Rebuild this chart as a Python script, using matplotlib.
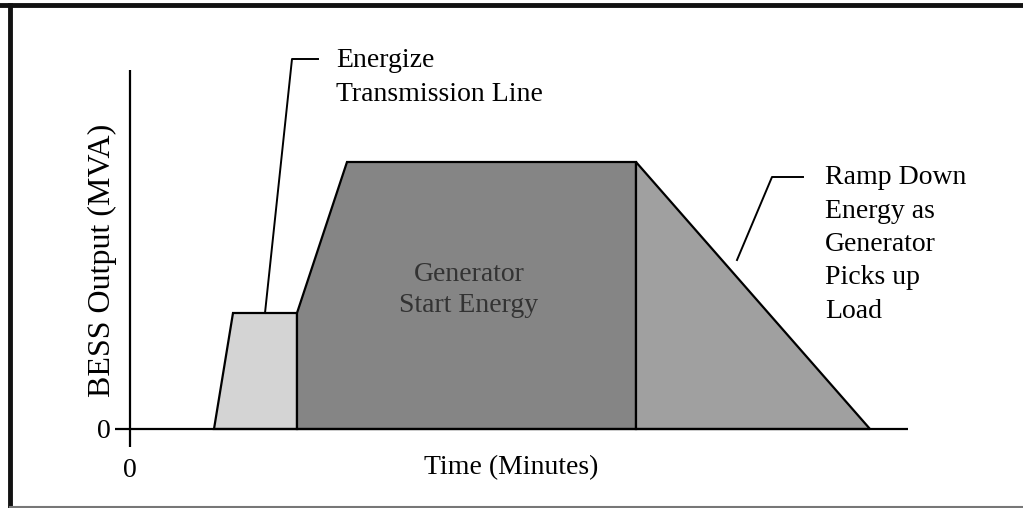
import matplotlib
matplotlib.use("Agg")
import matplotlib.pyplot as plt
from matplotlib.patches import Polygon
from matplotlib.lines import Line2D

plt.rcParams['font.family'] = ['Liberation Serif', 'DejaVu Serif']

# ---- data (time in arbitrary minutes, output in arbitrary MVA) ----
energize_time = [8.4, 10.3, 16.7, 16.7]
energize_mva = [0.0, 11.6, 11.6, 0.0]

genstart_time = [16.7, 16.7, 21.7, 50.6, 50.6]
genstart_mva = [0.0, 11.6, 26.7, 26.7, 0.0]

rampdown_time = [50.6, 50.6, 74.0]
rampdown_mva = [0.0, 26.7, 0.0]

energize_leader_t = [13.5, 16.2, 18.8]
energize_leader_v = [11.6, 37.0, 37.0]
ramp_leader_t = [60.7, 64.2, 67.3]
ramp_leader_v = [16.9, 25.2, 25.2]

xticks = [0]
yticks = [0]
xlabels = ['0']
ylabels = ['0']

W, H = 1023, 508
fig = plt.figure(figsize=(W / 100, H / 100), dpi=100)
ax = fig.add_axes([115 / W, (H - 447) / H, 793 / W, 377 / H])
ax.set_xlim(-1.5, 77.8)
ax.set_ylim(-1.8, 35.9)
for s in ax.spines.values():
    s.set_visible(False)

lw = 1.6
ax.add_patch(Polygon(list(zip(energize_time, energize_mva)), closed=True,
                     facecolor='#d4d4d4', edgecolor='black', lw=lw))
ax.add_patch(Polygon(list(zip(genstart_time, genstart_mva)), closed=True,
                     facecolor='#858585', edgecolor='black', lw=lw))
ax.add_patch(Polygon(list(zip(rampdown_time, rampdown_mva)), closed=True,
                     facecolor='#a0a0a0', edgecolor='black', lw=lw))

ax.axhline(0, color='black', lw=lw, zorder=5)
ax.axvline(0, color='black', lw=lw, zorder=5)

ax.plot(energize_leader_t, energize_leader_v, color='black', lw=1.4, clip_on=False)
ax.plot(ramp_leader_t, ramp_leader_v, color='black', lw=1.4, clip_on=False)

fs = 20
ax.set_xticks(xticks)
ax.set_xticklabels(xlabels)
ax.set_yticks(yticks)
ax.set_yticklabels(ylabels)
ax.tick_params(length=0, labelsize=fs)
ax.tick_params(axis='y', pad=3)
ax.tick_params(axis='x', pad=8)


def lines(x, y0, txts, step, **kw):
    for i, t in enumerate(txts):
        ax.text(x, y0 - i * step, t, fontsize=fs, va='baseline', clip_on=False, **kw)


lines(20.6, 36.2, ['Energize', 'Transmission Line'], 3.4, ha='left')
lines(69.5, 24.5, ['Ramp Down', 'Energy as', 'Generator', 'Picks up', 'Load'], 3.35, ha='left')
lines(33.9, 14.8, ['Generator', 'Start Energy'], 3.1, ha='center', color='#333333')

ax.text(-2.8, 16.9, 'BESS Output (MVA)', rotation=90, fontsize=23,
        ha='center', va='center', clip_on=False)
ax.text(38.1, -4.5, 'Time (Minutes)', fontsize=fs, ha='center', va='baseline', clip_on=False)

# figure frame
fig.add_artist(Line2D([0, 1], [1 - 5 / H, 1 - 5 / H], color='#111111', lw=3.5))
fig.add_artist(Line2D([10 / W, 10 / W], [0, 1 - 5 / H], color='#111111', lw=3.5))
fig.add_artist(Line2D([10 / W, 1], [1.5 / H, 1.5 / H], color='#777777', lw=1.5))

fig.savefig('out.png', dpi=100)
